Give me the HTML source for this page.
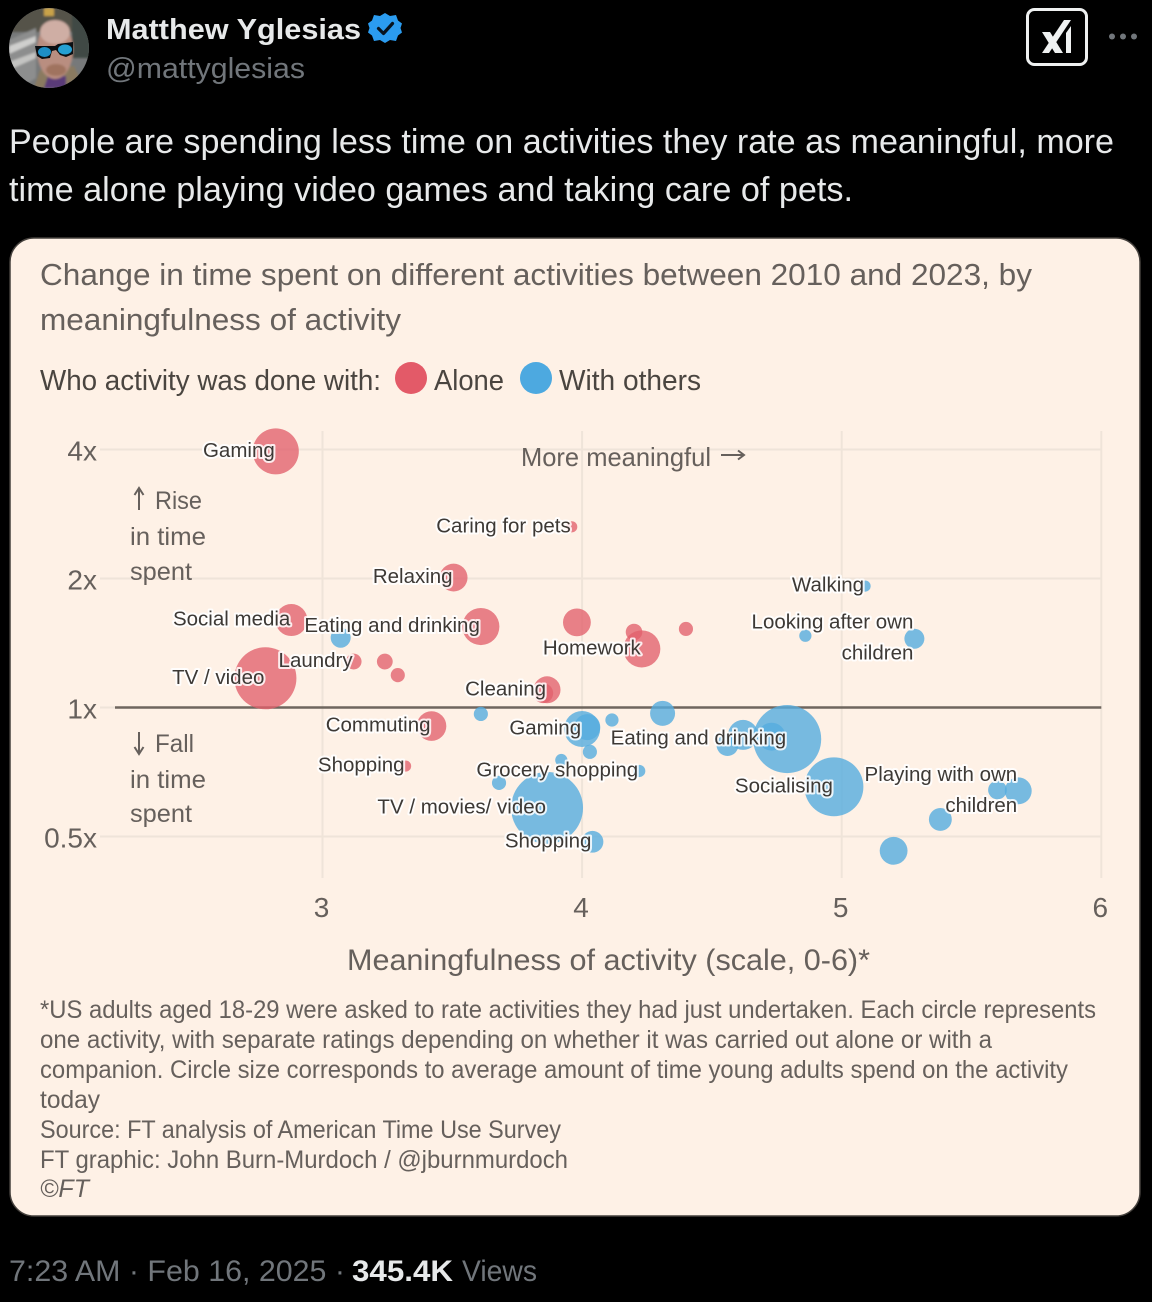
<!DOCTYPE html>
<html lang="en">
<head>
<meta charset="utf-8">
<title>Matthew Yglesias post: change in time spent on activities</title>
<style>
  html,body{margin:0;padding:0;background:#000;}
  svg{display:block;font-family:"Liberation Sans",sans-serif;}
  .ink{fill:#66605c;}
  .lab{font-size:20.5px;fill:#3d3935;stroke:#fff;stroke-opacity:.85;stroke-width:4px;paint-order:stroke;stroke-linejoin:round;}
</style>
</head>
<body>
<svg id="page" xmlns="http://www.w3.org/2000/svg" width="1152" height="1302" viewBox="0 0 1152 1302">
  <defs>
    <clipPath id="avClip"><circle cx="49" cy="48" r="40"/></clipPath>
    <filter id="soft" x="-20%" y="-20%" width="140%" height="140%"><feGaussianBlur stdDeviation="1.1"/></filter>
  </defs>
  <rect width="1152" height="1302" fill="#000"/>

  <g clip-path="url(#avClip)">
    <rect x="9" y="8" width="80" height="80" fill="#77797a"/>
    <g filter="url(#soft)">
      <rect x="9" y="8" width="80" height="24" fill="#55524a"/>
      <rect x="44" y="8" width="10" height="8" fill="#c9a24a"/>
      <rect x="72" y="14" width="18" height="44" fill="#3f4a44"/>
      <polygon points="9,40 36,28 36,78 20,88 9,88" fill="#8d8e8e"/>
      <polygon points="9,46 36,36 36,42 9,54" fill="#cfcfcd"/>
      <polygon points="9,62 36,52 36,58 9,70" fill="#c4c4c2"/>
      <polygon points="34,88 40,70 74,66 84,88" fill="#8a7a60"/>
      <polygon points="44,88 48,76 66,76 66,88" fill="#5a3a78"/>
      <ellipse cx="55" cy="50" rx="18" ry="29" fill="#b98e80"/>
      <ellipse cx="55" cy="32" rx="15" ry="12" fill="#cfaea4"/>
      <ellipse cx="56" cy="70" rx="10" ry="6" fill="#a0735f"/>
    </g>
    <polygon points="35,46 55,46 58,44 73,42 73,54 66,57 60,55 56,50 52,51 50,58 42,59 37,56" fill="#0c0f12"/>
    <ellipse cx="44.5" cy="52" rx="6.5" ry="5" fill="#1e8fc6"/>
    <ellipse cx="65" cy="49.5" rx="7" ry="5" fill="#26a0d2"/>
  </g>

  <text x="106" y="39" font-size="29" font-weight="700" fill="#e7e9ea" textLength="255" lengthAdjust="spacingAndGlyphs">Matthew Yglesias</text>
  <g>
    <polygon fill="#2b9cf0" points="385,13 390,16 396,15 398,20.5 402,23.5 400.5,28 402,32.5 398,35.5 396,41 390,40 385,43 380,40 374,41 372,35.5 368,32.5 369.5,28 368,23.5 372,20.5 374,15 380,16"/>
    <polyline points="378.5,28.5 383.5,33.5 392.5,23.5" fill="none" stroke="#08141f" stroke-width="3.2" stroke-linecap="round" stroke-linejoin="round"/>
  </g>
  <text x="106" y="78" font-size="29" fill="#71767b" textLength="199" lengthAdjust="spacingAndGlyphs">@mattyglesias</text>

  <g>
    <rect x="1027.5" y="9.5" width="59" height="55" rx="7" fill="none" stroke="#eff1f1" stroke-width="3"/>
    <polygon fill="#eff1f1" points="1042,53 1049,53 1071,20 1064,20"/>
    <polygon fill="#eff1f1" points="1042,32 1050,32 1063,53 1055,53"/>
    <polygon fill="#eff1f1" points="1071,26 1071,53 1066,53 1066,33"/>
  </g>
  <g fill="#71767b">
    <circle cx="1112" cy="36.5" r="3"/><circle cx="1123" cy="36.5" r="3"/><circle cx="1134" cy="36.5" r="3"/>
  </g>

  <text x="9" y="153" font-size="34" fill="#e7e9ea" textLength="1105" lengthAdjust="spacingAndGlyphs">People are spending less time on activities they rate as meaningful, more</text>
  <text x="9" y="201" font-size="34" fill="#e7e9ea" textLength="844" lengthAdjust="spacingAndGlyphs">time alone playing video games and taking care of pets.</text>

  <rect x="10" y="238" width="1130" height="978" rx="24" fill="#fef1e6" stroke="#44403c" stroke-width="1.5"/>

  <text class="ink" x="40" y="285" font-size="31" textLength="992" lengthAdjust="spacingAndGlyphs">Change in time spent on different activities between 2010 and 2023, by</text>
  <text class="ink" x="40" y="330" font-size="31" textLength="361" lengthAdjust="spacingAndGlyphs">meaningfulness of activity</text>

  <g>
    <text x="40" y="390" font-size="29" fill="#4a4540" textLength="341" lengthAdjust="spacingAndGlyphs">Who activity was done with:</text>
    <circle cx="411" cy="378" r="16" fill="#e35a68"/>
    <text x="434" y="390" font-size="29" fill="#4a4540" textLength="70" lengthAdjust="spacingAndGlyphs">Alone</text>
    <circle cx="536" cy="378" r="16" fill="#4da9e0"/>
    <text x="559" y="390" font-size="29" fill="#4a4540" textLength="142" lengthAdjust="spacingAndGlyphs">With others</text>
  </g>

  <g id="chart"></g>

  <g class="ink" font-size="25">
    <text x="521" y="466" font-size="26" textLength="190" lengthAdjust="spacingAndGlyphs">More meaningful</text>
    <path d="M721 455H743M738 450.5L744 455L738 459.5" fill="none" stroke="#66605c" stroke-width="2"/>
    <path d="M139 510V489M134.5 495L139 488L143.5 495" fill="none" stroke="#66605c" stroke-width="2"/>
    <text x="155" y="509" textLength="47" lengthAdjust="spacingAndGlyphs">Rise</text>
    <text x="130" y="545" textLength="76" lengthAdjust="spacingAndGlyphs">in time</text>
    <text x="130" y="580" textLength="62" lengthAdjust="spacingAndGlyphs">spent</text>
    <path d="M139 732V753M134.5 747L139 754L143.5 747" fill="none" stroke="#66605c" stroke-width="2"/>
    <text x="155" y="752" textLength="39" lengthAdjust="spacingAndGlyphs">Fall</text>
    <text x="130" y="788" textLength="76" lengthAdjust="spacingAndGlyphs">in time</text>
    <text x="130" y="822" textLength="62" lengthAdjust="spacingAndGlyphs">spent</text>
  </g>

  <text class="ink" x="347" y="970" font-size="30" textLength="523" lengthAdjust="spacingAndGlyphs">Meaningfulness of activity (scale, 0-6)*</text>

  <g class="ink" font-size="25">
    <text x="40" y="1018" textLength="1056" lengthAdjust="spacingAndGlyphs">*US adults aged 18-29 were asked to rate activities they had just undertaken. Each circle represents</text>
    <text x="40" y="1048" textLength="952" lengthAdjust="spacingAndGlyphs">one activity, with separate ratings depending on whether it was carried out alone or with a</text>
    <text x="40" y="1078" textLength="1028" lengthAdjust="spacingAndGlyphs">companion. Circle size corresponds to average amount of time young adults spend on the activity</text>
    <text x="40" y="1108" textLength="60" lengthAdjust="spacingAndGlyphs">today</text>
    <text x="40" y="1138" textLength="521" lengthAdjust="spacingAndGlyphs">Source: FT analysis of American Time Use Survey</text>
    <text x="40" y="1168" textLength="528" lengthAdjust="spacingAndGlyphs">FT graphic: John Burn-Murdoch / @jburnmurdoch</text>
    <text x="40" y="1197" font-style="italic" textLength="49" lengthAdjust="spacingAndGlyphs">©FT</text>
  </g>

  <g font-size="30">
    <text x="9" y="1281" fill="#71767b" textLength="336" lengthAdjust="spacingAndGlyphs">7:23 AM · Feb 16, 2025 ·</text>
    <text x="352" y="1281" fill="#e7e9ea" font-weight="700" textLength="101" lengthAdjust="spacingAndGlyphs">345.4K</text>
    <text x="462" y="1281" fill="#71767b" textLength="75" lengthAdjust="spacingAndGlyphs">Views</text>
  </g>
</svg>

<script>
// Axis ticks
const xTickValues = [3, 4, 5, 6];
const xTickLabels = ['3', '4', '5', '6'];
const yTickValues = [4, 2, 1, 0.5];
const yTickLabels = ['4x', '2x', '1x', '0.5x'];

// Done alone
const aloneNames = ['Gaming', 'Caring for pets', 'Relaxing', 'Social media', 'Eating and drinking', '', 'TV / video', 'Laundry', '', '', 'Cleaning', '', '', 'Homework', '', 'Commuting', 'Shopping'];
const aloneMeaning = [2.82, 3.96, 3.505, 2.88, 3.61, 3.98, 2.78, 3.12, 3.24, 3.29, 3.865, 3.85, 4.20, 4.23, 4.40, 3.42, 3.32];
const aloneChange = [3.96, 2.64, 2.01, 1.60, 1.545, 1.58, 1.17, 1.28, 1.28, 1.19, 1.10, 1.08, 1.50, 1.37, 1.525, 0.905, 0.73];
const aloneMinutes = [85, 5, 31, 41, 55, 31, 154, 10, 10, 8, 29, 16, 11, 55, 8, 35, 5];

// Done with others
const othersNames = ['', '', 'Gaming', '', '', '', 'TV / movies/ video', 'Shopping', 'Grocery shopping', '', '', '', '', '', 'Eating and drinking', 'Socialising', 'Playing with own|children', '', '', '', 'Walking', '', 'Looking after own|children'];
const othersMeaning = [3.07, 3.61, 4.00, 4.02, 4.03, 3.92, 3.865, 4.04, 4.22, 3.68, 4.115, 4.31, 4.62, 4.56, 4.79, 4.97, 5.68, 5.60, 5.38, 5.20, 5.09, 4.86, 5.28];
const othersChange = [1.455, 0.966, 0.891, 0.90, 0.788, 0.754, 0.583, 0.486, 0.711, 0.667, 0.935, 0.969, 0.863, 0.817, 0.844, 0.653, 0.639, 0.642, 0.548, 0.463, 1.92, 1.47, 1.447];
const othersMinutes = [16, 8, 52, 27, 8, 6, 207, 19, 6, 8, 7, 25, 36, 19, 185, 139, 29, 14, 21, 31, 5, 6, 16];
const othersInnerMeaning = [4.73];
const othersInnerChange = [0.855];
const othersInnerMinutes = [31];

const NS = 'http://www.w3.org/2000/svg';
const chart = document.getElementById('chart');
const xScale = function (v) { return 322.5 + (v - 3) * 259.6; };
const yScale = function (v) { return 707.5 - Math.log2(v) * 129; };
const rScale = function (m) { return Math.sqrt(m) * 2.5; };
const gridColor = '#efe4d9';

function make(tag, attrs, parent) {
  const el = document.createElementNS(NS, tag);
  for (const k in attrs) { el.setAttribute(k, attrs[k]); }
  parent.appendChild(el);
  return el;
}

const gridGroup = make('g', {}, chart);


xTickValues.forEach(function (v, i) {
  const line = make('line', { x1: xScale(v), x2: xScale(v), y1: 431, y2: 878, stroke: gridColor, 'stroke-width': 2 }, gridGroup);
  
  
  const t = make('text', { x: xScale(v) - 1, y: 917, 'font-size': 28, 'text-anchor': 'middle', fill: '#66605c' }, chart);
  t.textContent = xTickLabels[i];
  
  
});
yTickValues.forEach(function (v, i) {
  const line = make('line', { x1: 100, x2: xScale(6), y1: yScale(v), y2: yScale(v), stroke: gridColor, 'stroke-width': 2 }, gridGroup);
  
  
  const t = make('text', { x: 97, y: yScale(v) + 11, 'font-size': 28, 'text-anchor': 'end', fill: '#66605c' }, chart);
  t.textContent = yTickLabels[i];
  
  
});
const baseline = make('line', { x1: 115, x2: xScale(6), y1: yScale(1), y2: yScale(1), stroke: '#6f665e', 'stroke-width': 2.5 }, chart);



const markGroup = make('g', {}, chart);


const labelGroup = make('g', {}, chart);



function drawBubble(mx, my, minutes, color, opacity) {
  const c = make('circle', { cx: xScale(mx), cy: yScale(my), r: rScale(minutes), fill: color, 'fill-opacity': opacity }, markGroup);
  
  
}

function drawLabel(name, mx, my) {
  if (!name) { return; }
  const lines = name.split('|');
  lines.forEach(function (line, i) {
    const offset = (i - (lines.length - 1) / 2) * 31;
    const t = make('text', { x: xScale(mx) - 1, y: yScale(my) - 2 + offset + 7.5, 'text-anchor': 'end', class: 'lab' }, labelGroup);
    t.textContent = line;
    
    
  });
}

aloneMeaning.forEach(function (v, i) { drawBubble(v, aloneChange[i], aloneMinutes[i], '#e2606c', 0.78); });
othersMeaning.forEach(function (v, i) { drawBubble(v, othersChange[i], othersMinutes[i], '#55addf', 0.8); });
othersInnerMeaning.forEach(function (v, i) { drawBubble(v, othersInnerChange[i], othersInnerMinutes[i], '#55addf', 0.8); });
aloneNames.forEach(function (n, i) { drawLabel(n, aloneMeaning[i], aloneChange[i]); });
othersNames.forEach(function (n, i) { drawLabel(n, othersMeaning[i], othersChange[i]); });
</script>
</body>
</html>
